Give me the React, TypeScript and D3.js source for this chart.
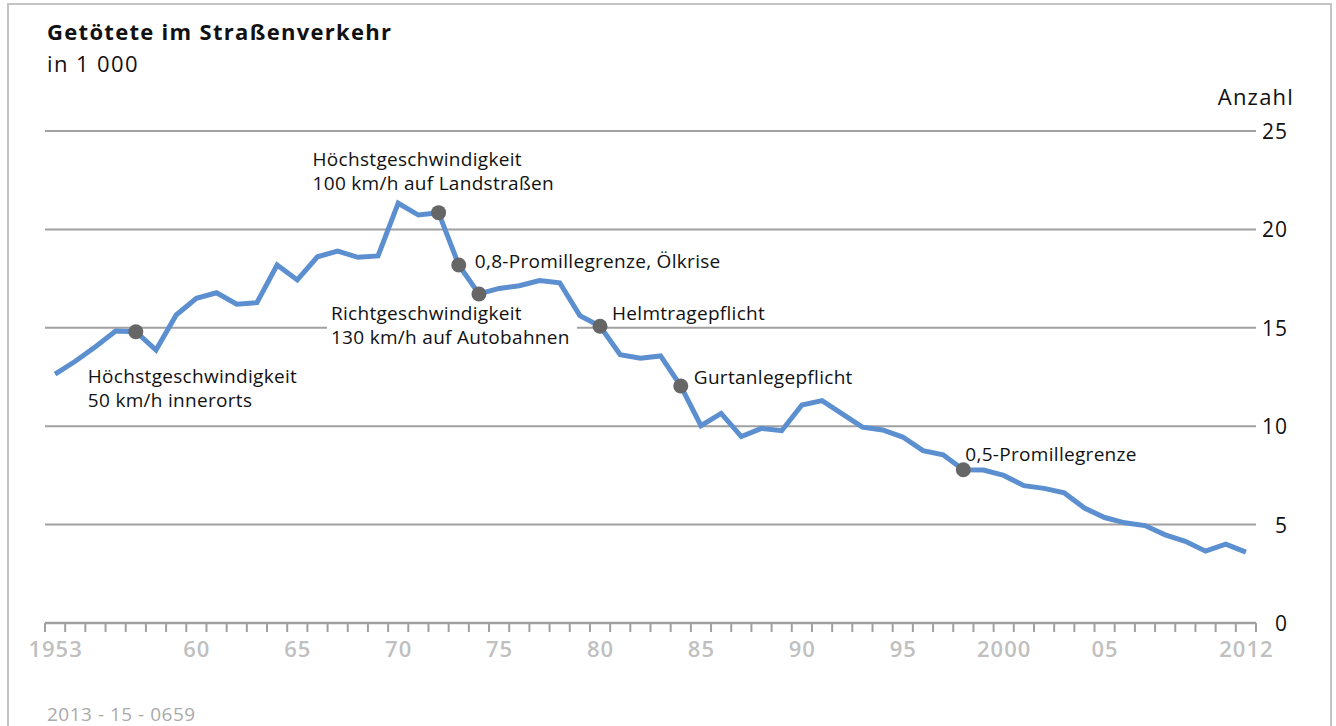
import React from "react";
import * as d3 from "d3";

const years: number[] = d3.range(1953, 2013);
const deaths: number[] = [
  12.65, 13.3, 14.04, 14.84, 14.8, 13.87, 15.65, 16.5, 16.78, 16.2,
  16.28, 18.19, 17.43, 18.61, 18.9, 18.58, 18.65, 21.33, 20.73, 20.85,
  18.19, 16.72, 17.0, 17.14, 17.4, 17.29, 15.62, 15.08, 13.63, 13.45,
  13.57, 12.04, 10.03, 10.65, 9.47, 9.89, 9.77, 11.08, 11.3, 10.63,
  9.95, 9.81, 9.45, 8.76, 8.55, 7.79, 7.77, 7.5, 6.98, 6.84,
  6.61, 5.84, 5.36, 5.09, 4.95, 4.48, 4.15, 3.65, 4.01, 3.6,
];
const yTicks: number[] = [0, 5, 10, 15, 20, 25];
const xLabelYears: number[] = [1953, 1960, 1965, 1970, 1975, 1980, 1985, 1990, 1995, 2000, 2005, 2012];
const xLabelTexts: string[] = ["1953", "60", "65", "70", "75", "80", "85", "90", "95", "2000", "05", "2012"];
const eventYears: number[] = [1957, 1972, 1973, 1974, 1980, 1984, 1998];
const eventLabels: string[][] = [
  ["Höchstgeschwindigkeit", "50 km/h innerorts"],
  ["Höchstgeschwindigkeit", "100 km/h auf Landstraßen"],
  ["0,8-Promillegrenze, Ölkrise"],
  ["Richtgeschwindigkeit", "130 km/h auf Autobahnen"],
  ["Helmtragepflicht"],
  ["Gurtanlegepflicht"],
  ["0,5-Promillegrenze"],
];
// label offsets relative to marker (layout)
const labelOffsets: [number, number, boolean][] = [
  [-48, 51, false],
  [-126, -47, false],
  [16, 3, false],
  [-148, 26, true],
  [12, -6, false],
  [13, -2, false],
  [2, -9, false],
];

const FONT = "'Open Sans', sans-serif";

export default function App() {
  const W = 1336, H = 726;
  const x = d3.scaleBand<number>().domain(years).range([45, 1256]).padding(0);
  const bw = x.bandwidth();
  const cx = (yr: number) => (x(yr) as number) + bw / 2;
  const y = d3.scaleLinear().domain([0, 25]).range([623, 131]);
  const line = d3
    .line<number>()
    .x((_, i) => cx(years[i]))
    .y((d) => y(d));
  const valOf = (yr: number) => deaths[years.indexOf(yr)];
  const boundaries = years.map((yr) => x(yr) as number).concat([1256]);

  return (
    <svg width={W} height={H} style={{ position: "absolute", left: 0, top: 0, background: "#fff" }}>
      <rect x={8} y={4} width={1323} height={760} fill="#fff" stroke="#c4c4c4" strokeWidth={2} />
      <text x={47} y={40} fontFamily={FONT} fontWeight={700} fontSize={22} letterSpacing={1.3} fill="#111">
        Getötete im Straßenverkehr
      </text>
      <text x={47} y={72} fontFamily={FONT} fontSize={22} letterSpacing={1.4} fill="#111">
        in 1 000
      </text>
      <text x={1294} y={105} textAnchor="end" fontFamily={FONT} fontSize={22} letterSpacing={1.2} fill="#111">
        Anzahl
      </text>
      {yTicks.filter((t) => t > 0).map((t) => (
        <line key={t} x1={45} x2={1256} y1={y(t)} y2={y(t)} stroke="#a0a0a0" strokeWidth={2} />
      ))}
      {yTicks.map((t) => (
        <text key={"l" + t} x={1288} y={y(t) + 8} textAnchor="end" fontFamily={FONT} fontSize={21} letterSpacing={1} fill="#111">
          {t}
        </text>
      ))}
      <line x1={45} x2={1256} y1={623} y2={623} stroke="#a0a0a0" strokeWidth={2.5} />
      {boundaries.map((b, i) => (
        <line key={"t" + i} x1={b} x2={b} y1={623} y2={632} stroke="#a0a0a0" strokeWidth={2} />
      ))}
      {xLabelYears.map((yr, i) => (
        <text key={"x" + yr} x={cx(yr) + 0.5} y={657} textAnchor="middle" fontFamily={FONT} fontWeight={600} fontSize={22} letterSpacing={1} fill="#c0c0c0">
          {xLabelTexts[i]}
        </text>
      ))}
      {eventYears.map((yr, i) => {
        const mx = cx(yr), my = y(valOf(yr));
        const [dx, dy, bg] = labelOffsets[i];
        return bg ? <rect key={"bg" + yr} x={mx + dx - 4} y={my + dy - 18} width={250} height={48} fill="#fff" /> : null;
      })}
      <path d={line(deaths) || ""} fill="none" stroke="#5b8fd0" strokeWidth={5} strokeLinejoin="miter" />
      {eventYears.map((yr, i) => {
        const mx = cx(yr), my = y(valOf(yr));
        const [dx, dy] = labelOffsets[i];
        const lines = eventLabels[i];
        return (
          <g key={"e" + yr}>
            <circle cx={mx} cy={my} r={7.5} fill="#666" />
            {lines.map((ln, j) => (
              <text key={j} x={mx + dx} y={my + dy + j * 24} fontFamily={FONT} fontSize={19} letterSpacing={0.3} fill="#111">
                {ln}
              </text>
            ))}
          </g>
        );
      })}
      <text x={47} y={721} fontFamily={FONT} fontSize={19} letterSpacing={0.5} fill="#aaa">
        2013 - 15 - 0659
      </text>
    </svg>
  );
}
